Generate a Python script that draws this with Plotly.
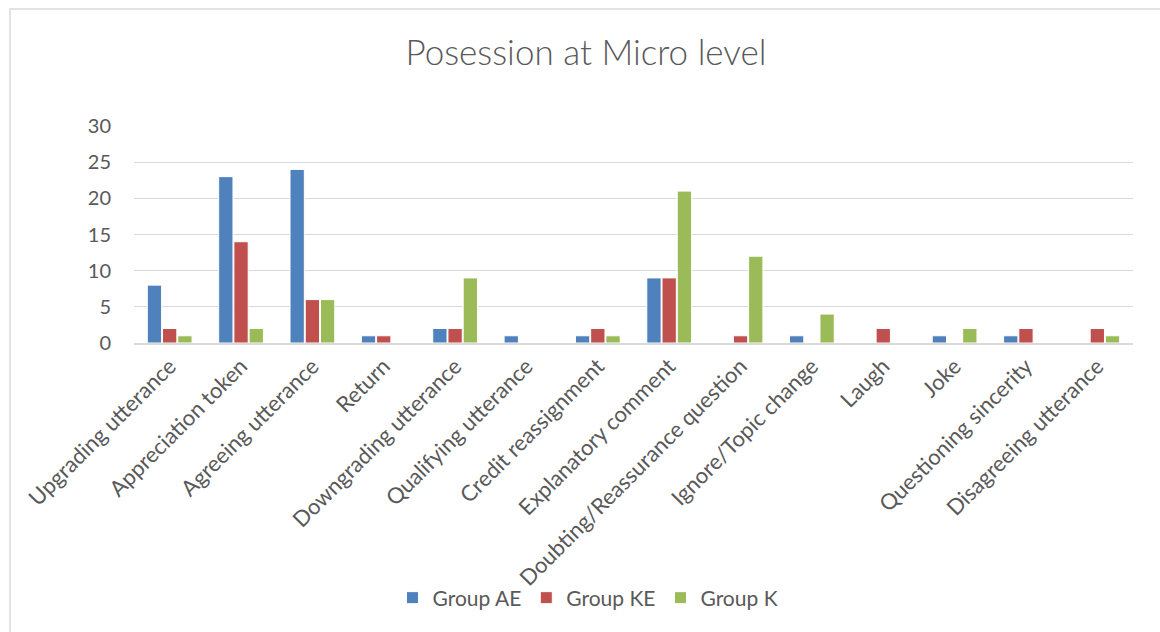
import plotly.graph_objects as go

categories = ["Upgrading utterance", "Appreciation token", "Agreeing utterance", "Return",
              "Downgrading utterance", "Qualifying utterance", "Credit reassignment",
              "Explanatory comment", "Doubting/Reassurance question", "Ignore/Topic change",
              "Laugh", "Joke", "Questioning sincerity", "Disagreeing utterance"]
group_ae = [8, 23, 24, 1, 2, 1, 1, 9, 0, 1, 0, 1, 1, 0]
group_ke = [2, 14, 6, 1, 2, 0, 2, 9, 1, 0, 2, 0, 2, 2]
group_k = [1, 2, 6, 0, 9, 0, 1, 21, 12, 4, 0, 2, 0, 1]
series_names = ["Group AE", "Group KE", "Group K"]
colors = ["#4F81BD", "#C0504D", "#9BBB59"]

W, H = 1160, 632
L, R, T, B = 134, 1133, 126, 343
pw, ph = R - L, B - T

fig = go.Figure()
for name, vals, c in zip(series_names, [group_ae, group_ke, group_k], colors):
    fig.add_trace(go.Bar(x=categories, y=vals, name=name, marker_color=c,
                         marker_line_color="white", marker_line_width=1))

def px(x):
    return (x - L) / pw

def py(y):
    return (B - y) / ph

font_family = "Lato, 'Open Sans', sans-serif"
fig.update_layout(
    width=W, height=H,
    margin=dict(l=L, r=W - R, t=T, b=H - B, autoexpand=False),
    paper_bgcolor="white", plot_bgcolor="white",
    barmode="group", bargap=0.36, bargroupgap=0.06,
    font=dict(family=font_family, color="#595959"),
    title=dict(text="Posession at Micro level", x=0.5 + (586 - (L + R) / 2) / pw,
               xref="paper", xanchor="center",
               y=1 - 53 / H, yanchor="middle",
               font=dict(size=35, color="#595959", family=font_family, weight=300)),
    xaxis=dict(tickangle=-45, tickfont=dict(size=22, color="#595959"),
               showline=True, linecolor="#D9D9D9", linewidth=1.5, ticks="",
               showgrid=False),
    yaxis=dict(range=[0, 30], dtick=5, tickfont=dict(size=20, color="#595959"),
               showgrid=True, gridcolor="#D9D9D9", gridwidth=1, zeroline=False,
               ticks="", showline=False, ticklabelstandoff=22),
    legend=dict(orientation="h", x=0.5 + (588 - (L + R) / 2) / pw, xanchor="center",
                y=py(598), yanchor="middle", font=dict(size=21, color="#595959"),
                itemwidth=30, traceorder="normal", bgcolor="rgba(0,0,0,0)"),
    shapes=[dict(type="rect", xref="paper", yref="paper",
                 x0=px(10), x1=px(1175), y0=py(645), y1=py(9),
                 line=dict(color="#D9D9D9", width=1.5), fillcolor="rgba(0,0,0,0)",
                 layer="below")],
)
fig.write_html("out.html")
